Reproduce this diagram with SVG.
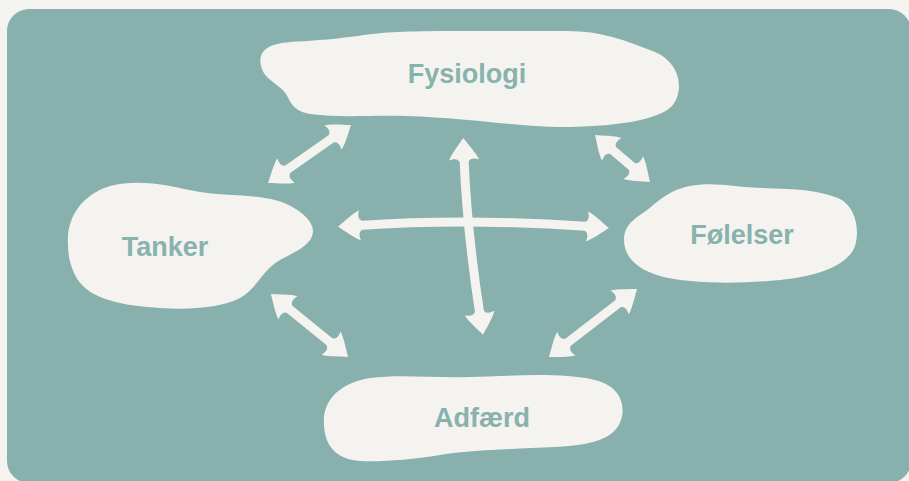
<svg xmlns="http://www.w3.org/2000/svg" width="909" height="481" viewBox="0 0 909 481">
  <defs>
    <style>
      .blob { fill: #f4f3ef; }
      .label { font-family: "Liberation Sans", Arial, sans-serif; font-weight: bold; font-size: 27px; fill: #88b2ad; text-anchor: middle; }
      .shaft { fill: none; stroke: #f4f3ef; stroke-width: 9; stroke-linecap: butt; marker-start: url(#head); marker-end: url(#head); }
    </style>
    <marker id="head" viewBox="-6 -17 28 34" markerWidth="28" markerHeight="34" refX="0" refY="0" orient="auto-start-reverse" markerUnits="userSpaceOnUse">
      <path d="M20,0 C13,-5 5,-12 -2,-15 C0,-9 -1,-6 -4,-4.5 L-4,4.5 C-1,6 0,9 -2,15 C5,12 13,5 20,0 Z" fill="#f4f3ef"/>
    </marker>
  </defs>

  <rect x="0" y="0" width="909" height="481" fill="#f4f3ef"/>
  <rect x="7" y="9" width="904" height="474" rx="22" ry="22" fill="#88b0ac"/>

  <g id="connectors">
    <path class="shaft" d="M334.6,136.4 L284.4,171.6"/>
    <path class="shaft" d="M610.2,148 L634.8,169"/>
    <path class="shaft" d="M464,157.9 Q467,232 480,315.1"/>
    <path class="shaft" d="M358,225.4 Q470,218 589,226.6"/>
    <path class="shaft" d="M286.4,306.7 L332.6,344.3"/>
    <path class="shaft" d="M621.2,301.2 L564.8,344.8"/>
  </g>

  <g id="fysiologi">
    <path class="blob" d="M261,66 C258,52 266,44 290,42 C330,40 350,37 372,34 C400,30 450,31 568,31 C600,31 625,40 655,52 C682,64 684,92 672,106 C658,121 610,127 560,127 C520,127 470,118 406,116 C370,115 340,118 310,114 C292,111 290,100 286,94 C280,84 264,80 261,66 Z"/>
    <text class="label" x="467" y="83">Fysiologi</text>
  </g>

  <g id="tanker">
    <path class="blob" d="M68,245 C66,220 80,195 110,186 C140,178 170,186 200,192 C225,196 250,194 275,200 C300,207 314,222 313,232 C312,245 295,252 280,260 C262,270 258,288 240,298 C220,308 190,310 160,308 C110,305 85,295 75,275 C70,265 68,255 68,245 Z"/>
    <text class="label" x="165" y="256">Tanker</text>
  </g>

  <g id="folelser">
    <path class="blob" d="M624,240 C624,228 630,222 640,215 C652,207 660,198 672,192 C690,183 710,183 735,186 C770,190 810,186 838,198 C856,206 860,230 855,246 C848,265 820,276 780,280 C740,284 690,284 660,276 C635,269 624,255 624,240 Z"/>
    <text class="label" x="742" y="244">Følelser</text>
  </g>

  <g id="adfaerd">
    <path class="blob" d="M324,425 C322,400 340,383 370,378 C400,374 430,378 470,377 C510,376 560,372 595,380 C620,386 626,405 621,420 C615,438 595,445 555,447 C515,449 470,450 440,455 C410,460 380,462 360,461 C335,459 325,445 324,425 Z"/>
    <text class="label" x="482" y="427">Adfærd</text>
  </g>
</svg>
